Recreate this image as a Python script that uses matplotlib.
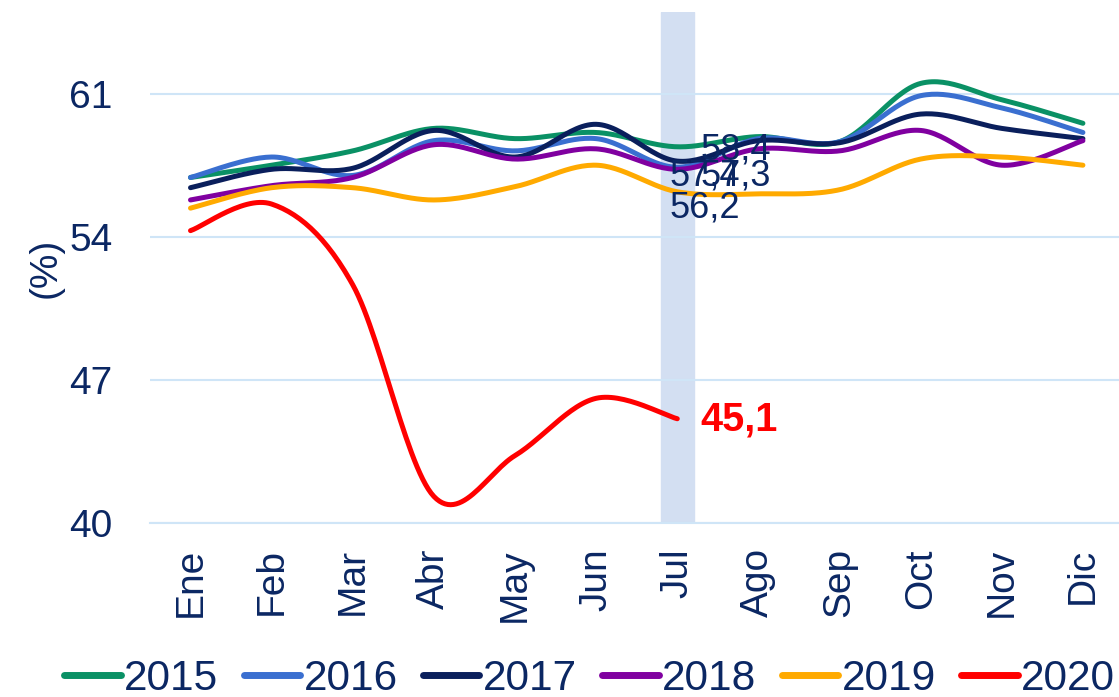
import matplotlib.pyplot as plt
import numpy as np

plt.rcParams['font.family'] = ['Liberation Sans', 'DejaVu Sans']

months = ['Ene', 'Feb', 'Mar', 'Abr', 'May', 'Jun', 'Jul', 'Ago', 'Sep', 'Oct', 'Nov', 'Dic']
y2015 = [56.9, 57.5, 58.2, 59.3, 58.8, 59.1, 58.4, 58.9, 58.65, 61.5, 60.7, 59.55]
y2016 = [56.9, 57.9, 57.0, 58.7, 58.2, 58.8, 57.4, 58.8, 58.65, 60.9, 60.3, 59.1]
y2017 = [56.4, 57.3, 57.35, 59.2, 57.9, 59.5, 57.7, 58.7, 58.6, 60.0, 59.3, 58.8]
y2018 = [55.8, 56.5, 56.9, 58.5, 57.8, 58.3, 57.3, 58.3, 58.2, 59.2, 57.5, 58.7]
y2019 = [55.4, 56.4, 56.4, 55.8, 56.45, 57.5, 56.2, 56.1, 56.3, 57.8, 57.9, 57.5]
y2020 = [54.3, 55.6, 51.65, 41.3, 43.3, 46.1, 45.1]

years = ['2015', '2016', '2017', '2018', '2019', '2020']
series = [y2015, y2016, y2017, y2018, y2019, y2020]
colors = ['#0A9165', '#3A6FD0', '#0A1F5C', '#8000A0', '#FFAA00', '#FF0000']

navy = '#0B2763'


def smooth(y, n=30):
    # bezier smoothing like the office "smoothed line"
    x = np.arange(len(y), dtype=float)
    y = np.asarray(y, dtype=float)
    p = np.column_stack([x, y])
    pts = []
    for i in range(len(p) - 1):
        p0 = p[i - 1] if i > 0 else p[i]
        p3 = p[i + 2] if i + 2 < len(p) else p[i + 1]
        c1 = p[i] + (p[i + 1] - p0) / 6
        c2 = p[i + 1] - (p3 - p[i]) / 6
        t = np.linspace(0, 1, n)[:, None]
        seg = ((1 - t) ** 3 * p[i] + 3 * (1 - t) ** 2 * t * c1
               + 3 * (1 - t) * t ** 2 * c2 + t ** 3 * p[i + 1])
        pts.append(seg if i == 0 else seg[1:])
    pts = np.vstack(pts)
    return pts[:, 0], pts[:, 1]


fig = plt.figure(figsize=(11.19, 6.97), dpi=100)
ax = fig.add_axes([0.134, 0.2496, 0.87, 0.7334])

ax.axvspan(5.8, 6.2, color='#D3DFF2', zorder=0)

for name, ys, c in zip(years, series, colors):
    sx, sy = smooth(ys)
    ax.plot(sx, sy, color=c, lw=3.6, label=name, solid_capstyle='round', zorder=2)

# data labels at Jul
ax.text(6.29, 58.26, '58,4', fontsize=26, color=navy, ha='left', va='center', zorder=5)
ax.text(5.91, 56.99, '57,4', fontsize=26, color=navy, ha='left', va='center', zorder=5)
ax.text(6.29, 56.99, '57,3', fontsize=26, color=navy, ha='left', va='center', zorder=5)
ax.text(5.91, 55.42, '56,2', fontsize=26, color=navy, ha='left', va='center', zorder=5)
ax.text(6.29, 45.04, '45,1', fontsize=28.5, color='#FF0000', fontweight='bold',
        ha='left', va='center', zorder=5)

ax.set_xlim(-0.5, 11.5)
ax.set_ylim(40, 65)
ax.set_yticks([40, 47, 54, 61])
ax.set_xticks(range(12))
ax.set_xticklabels(months, rotation=90)
ax.tick_params(axis='both', length=0, labelsize=28, labelcolor=navy)
ax.tick_params(axis='y', pad=27)
ax.tick_params(axis='x', pad=18)
ax.grid(axis='y', color='#CFE5F7', lw=1.5, zorder=1)
for s in ['top', 'right', 'left']:
    ax.spines[s].set_visible(False)
ax.spines['bottom'].set_color('#CFE5F7')
ax.spines['bottom'].set_linewidth(1.5)
ax.set_ylabel('(%)', fontsize=28, color=navy, labelpad=4)

leg = fig.legend(loc='center', bbox_to_anchor=(0.527, 0.026), ncol=6, frameon=False,
                 fontsize=30.5, handlelength=1.33, handletextpad=0.08, columnspacing=0.6,
                 borderpad=0, borderaxespad=0)
for t in leg.get_texts():
    t.set_color(navy)
for h in leg.get_lines():
    h.set_linewidth(5)
    h.set_solid_capstyle('round')

fig.savefig('out.png', dpi=100)
